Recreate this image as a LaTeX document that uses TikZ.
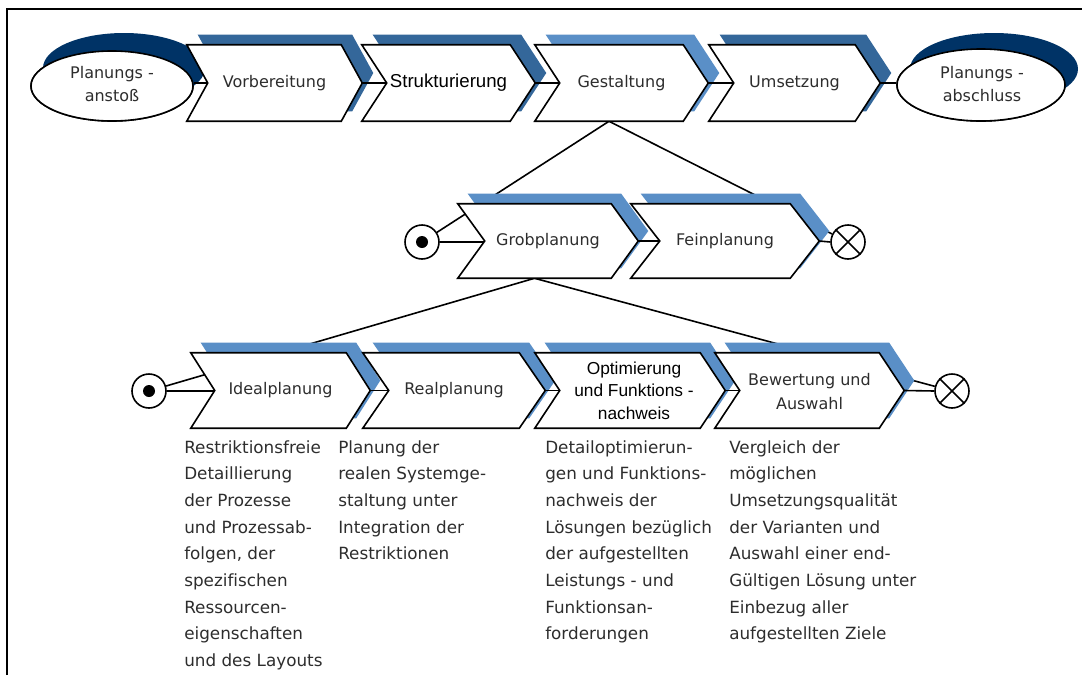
\documentclass[tikz,border=0pt]{standalone}
\usepackage{fontspec}
\setmainfont{DejaVu Sans}[Ligatures=NoCommon]
\newfontfamily\arialfont{Liberation Sans}
\usetikzlibrary{calc,shapes.geometric}

\definecolor{shadedark}{RGB}{52,103,154}
\definecolor{shadelight}{RGB}{90,143,199}
\definecolor{shadenavy}{RGB}{0,51,102}
\definecolor{labelgray}{RGB}{45,45,45}

% chevron outline around a text node: #1 node, #2 half notch depth, #3/#4 offset
\newcommand\chevronpath[4]{%
  ($(#1.north west)+(-#2+#3,#4)$) -- ($(#1.north east)+(-#2+#3,#4)$) --
  ($(#1.east)+(#2+#3,#4)$) -- ($(#1.south east)+(-#2+#3,#4)$) --
  ($(#1.south west)+(-#2+#3,#4)$) -- ($(#1.west)+(#2+#3,#4)$) -- cycle}

\tikzset{
  chev/.style={rectangle, inner sep=0pt, align=center, text=labelgray,
    font=\fontsize{12}{17}\selectfont},
  chevline/.style={draw=black, fill=white, line width=1.2pt, line join=miter},
  conn/.style={draw=black, line width=1.2pt},
  event/.style={ellipse, draw=black, fill=white, line width=1.2pt, inner sep=0pt},
  eventtext/.style={text=labelgray, align=center, font=\fontsize{12}{17.25}\selectfont},
  opcircle/.style={circle, draw=black, fill=white, line width=1.2pt,
    minimum size=25.5pt, inner sep=0pt},
  desc/.style={anchor=north west, align=left, inner sep=0pt, text=labelgray,
    font=\fontsize{12.6}{20}\selectfont},
}

\begin{document}
\begin{tikzpicture}[x=0.75pt, y=-0.75pt]
\useasboundingbox (0,0) rectangle (1082,675);

% frame
\draw[line width=1.5pt] (7,675) -- (7,9) -- (1082,9);

% ---------- text nodes (geometry carriers) ----------
\node[event, minimum width=121.5pt, minimum height=52.5pt] (pa) at (112,86) {};
\node[event, minimum width=126pt, minimum height=54pt] (pe) at (981,85) {};

\node[chev, minimum width=115.5pt, minimum height=57pt] (vorb) at (274.5,83) {};
\node[chev, minimum width=111pt, minimum height=57pt] (struk) at (448.5,83) {};
\node[chev, minimum width=111pt, minimum height=57pt] (gest) at (621.5,83) {};
\node[chev, minimum width=109.5pt, minimum height=57pt] (ums) at (794.5,83) {};

\node[chev, minimum width=114.75pt, minimum height=55.5pt] (grob) at (548,241) {};
\node[chev, minimum width=119.25pt, minimum height=55.5pt] (fein) at (725,241) {};

\node[chev, minimum width=116.25pt, minimum height=56.25pt] (ideal) at (280.5,390.5) {};
\node[chev, minimum width=117pt, minimum height=56.25pt] (real) at (454,390.5) {};
\node[chev, minimum width=123.75pt, minimum height=56.25pt] (opt) at (630,390.5) {};
\node[chev, minimum width=123pt, minimum height=56.25pt] (bew) at (809.5,390.5) {};

\coordinate (gestfoot) at ($(gest.south)+(-12.5,0)$);
\coordinate (grobfoot) at ($(grob.south)+(-13.5,0)$);

% ---------- operator circles ----------
\node[opcircle] (s2) at (422,242) {};
\node[opcircle] (e2) at (848,242) {};
\node[opcircle] (s3) at (149,391) {};
\node[opcircle] (e3) at (952,391) {};

% ---------- decomposition lines ----------
\draw[conn] (gestfoot) -- (s2);
\draw[conn] (gestfoot) -- (e2);
\draw[conn] (grobfoot) -- (s3);
\draw[conn] (grobfoot) -- (e3);

% ---------- shadows ----------
\fill[shadenavy] ($(pa)+(12,-18)$) ellipse [x radius=81, y radius=35];
\fill[shadenavy] ($(pe)+(13,-16)$) ellipse [x radius=84, y radius=36];

\fill[shadedark]  \chevronpath{vorb}{10.5}{11}{-10};
\fill[shadedark]  \chevronpath{struk}{12.5}{11}{-10};
\fill[shadelight] \chevronpath{gest}{12.5}{11}{-10};
\fill[shadedark]  \chevronpath{ums}{12.5}{11}{-10};
\fill[shadelight] \chevronpath{grob}{13.5}{10}{-10};
\fill[shadelight] \chevronpath{fein}{14.5}{10}{-10};
\fill[shadelight] \chevronpath{ideal}{12}{10}{-10};
\fill[shadelight] \chevronpath{real}{13}{10}{-10};
\fill[shadelight] \chevronpath{opt}{12.5}{10}{-10};
\fill[shadelight] \chevronpath{bew}{12.5}{10}{-10};

% ---------- flow connectors ----------
\draw[conn] (pa.east |- vorb.west) -- ($(vorb.west)+(10.5,0)$);
\draw[conn] ($(vorb.east)+(10.5,0)$) -- ($(struk.west)+(12.5,0)$);
\draw[conn] ($(struk.east)+(12.5,0)$) -- ($(gest.west)+(12.5,0)$);
\draw[conn] ($(gest.east)+(12.5,0)$) -- ($(ums.west)+(12.5,0)$);
\draw[conn] ($(ums.east)+(12.5,0)$) -- (pe.west |- ums.east);

\draw[conn] (s2.east) -- ($(grob.west |- s2.east)+(13.5,0)$);
\draw[conn] ($(grob.east)+(13.5,0)$) -- ($(fein.west)+(14.5,0)$);
\draw[conn] ($(fein.east)+(14.5,0)$) -- (e2.west);

\draw[conn] (s3.east) -- ($(ideal.west |- s3.east)+(12,0)$);
\draw[conn] ($(ideal.east)+(12,0)$) -- ($(real.west)+(13,0)$);
\draw[conn] ($(real.east)+(13,0)$) -- ($(opt.west)+(12.5,0)$);
\draw[conn] ($(opt.east)+(12.5,0)$) -- ($(bew.west)+(12.5,0)$);
\draw[conn] ($(bew.east)+(12.5,0)$) -- (e3.west);

% ---------- white shapes ----------
\node[event, minimum width=121.5pt, minimum height=52.5pt] at (pa) {};
\node[event, minimum width=126pt, minimum height=54pt] at (pe) {};
\node[eventtext] at (112,84) {Planungs -\\anstoß};
\node[eventtext] at (982,84) {Planungs -\\abschluss};

\path[chevline] \chevronpath{vorb}{10.5}{0}{0};
\path[chevline] \chevronpath{struk}{12.5}{0}{0};
\path[chevline] \chevronpath{gest}{12.5}{0}{0};
\path[chevline] \chevronpath{ums}{12.5}{0}{0};
\path[chevline] \chevronpath{grob}{13.5}{0}{0};
\path[chevline] \chevronpath{fein}{14.5}{0}{0};
\path[chevline] \chevronpath{ideal}{12}{0}{0};
\path[chevline] \chevronpath{real}{13}{0}{0};
\path[chevline] \chevronpath{opt}{12.5}{0}{0};
\path[chevline] \chevronpath{bew}{12.5}{0}{0};

% chevron labels
\node[chev] at (vorb) {Vorbereitung};
\node[chev, text=black, font=\arialfont\fontsize{14}{18}\selectfont] at (struk) {Strukturierung};
\node[chev] at (gest) {Gestaltung};
\node[chev] at (ums) {Umsetzung};
\node[chev] at (grob) {Grobplanung};
\node[chev] at (fein) {Feinplanung};
\node[chev] at (ideal) {Idealplanung};
\node[chev] at (real) {Realplanung};
\node[chev, text=black, font=\arialfont\fontsize{13}{17}\selectfont] at ($(opt)+(4,0)$) {Optimierung\\und Funktions -\\nachweis};
\node[chev, font=\fontsize{12}{18}\selectfont] at ($(bew)+(0,1)$) {Bewertung und\\Auswahl};

% ---------- operator symbols ----------
\fill[black] (s2) circle [radius=6];
\fill[black] (s3) circle [radius=6];
\draw[line width=1.2pt] (e2.45) -- (e2.225) (e2.135) -- (e2.315);
\draw[line width=1.2pt] (e3.45) -- (e3.225) (e3.135) -- (e3.315);

% ---------- descriptions ----------
\node[desc] (d1) at (184,440) {Restriktionsfreie\\Detaillierung\\der Prozesse\\und Prozessab-\\folgen, der\\spezifischen\\Ressourcen-\\eigenschaften\\und des Layouts};
\node[desc] (d2) at (338,440) {Planung der\\realen Systemge-\\staltung unter\\Integration der\\Restriktionen};
\node[desc] (d3) at (545,440) {Detailoptimierun-\\gen und Funktions-\\nachweis der\\Lösungen bezüglich\\der aufgestellten\\Leistungs - und\\Funktionsan-\\forderungen};
\node[desc] (d4) at (729,440) {Vergleich der\\möglichen\\Umsetzungsqualität\\der Varianten und\\Auswahl einer end-\\Gültigen Lösung unter\\Einbezug aller\\aufgestellten Ziele};

\end{tikzpicture}
\end{document}
